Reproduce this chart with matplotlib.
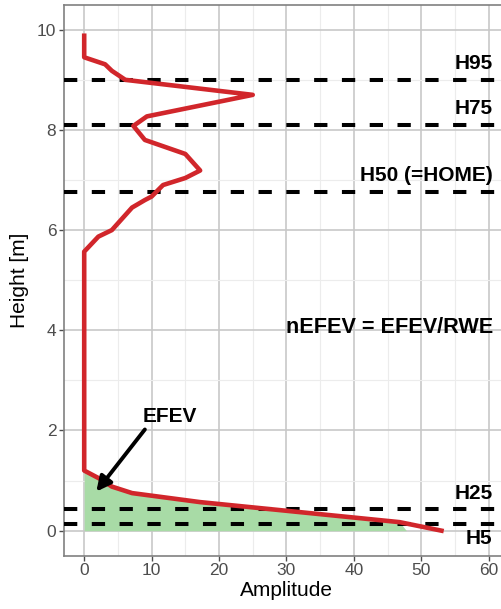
import matplotlib
matplotlib.use('Agg')
import matplotlib.pyplot as plt
import numpy as np

plt.rcParams['font.family'] = ['Liberation Sans', 'DejaVu Sans']

# Amplitudenprofil (Amplitude, Hoehe)
amplitude = [0, 0, 3.1, 4.1, 6.1, 25.0, 9.3, 7.3, 9.0, 15.0, 17.2, 15.0, 11.7, 10.0, 9.0,
             7.1, 4.1, 2.1, 0, 0, 2.4, 4.1, 7.1, 17.2, 32.0, 46.8, 53.0]
height = [9.88, 9.45, 9.31, 9.18, 9.0, 8.70, 8.27, 8.08, 7.80, 7.52, 7.19, 7.04, 6.90, 6.67, 6.60,
          6.45, 6.0, 5.87, 5.57, 1.20, 1.03, 0.88, 0.75, 0.57, 0.37, 0.17, 0.0]

# Hoehenperzentile
h_names = ['H95', 'H75', 'H50 (=HOME)', 'H25', 'H5']
h_values = [9.0, 8.1, 6.76, 0.44, 0.14]
h_label_y = [9.33, 8.42, 7.09, 0.75, -0.15]

efev_top = 1.2
efev_end = 47.8  # wo die gruene Flaeche am Boden endet

fig = plt.figure(figsize=(5.01, 6.09), dpi=100)
ax = fig.add_axes([0.1277, 0.0875, 0.888, 0.9048])

# EFEV Flaeche (unterer Teil des Profils)
amp = np.array(amplitude)
hgt = np.array(height)
sel = (hgt <= efev_top) & (hgt > 0)
fill_h = np.append(hgt[sel], 0)
fill_a = np.append(amp[sel], efev_end)
ax.fill_betweenx(fill_h, 0, fill_a, color='#a8dba6', lw=0, zorder=2)

for hv in h_values:
    ax.axhline(hv, color='black', lw=2.9, dashes=(3.3, 3.6), zorder=3)

ax.plot(amplitude, height, color='#d1262b', lw=3.3, solid_joinstyle='round', zorder=4)

for name, ly in zip(h_names, h_label_y):
    ax.text(60.6, ly, name, ha='right', va='center', fontsize=15, fontweight='bold', zorder=5)

ax.text(60.7, 4.05, 'nEFEV = EFEV/RWE', ha='right', va='center', fontsize=15.6, fontweight='bold')
ax.text(12.7, 2.28, 'EFEV', ha='center', va='center', fontsize=15, fontweight='bold')
ax.annotate('', xy=(1.8, 0.78), xytext=(9.0, 2.02),
            arrowprops=dict(arrowstyle='-|>', color='black', lw=2.8, mutation_scale=22,
                            shrinkA=0, shrinkB=0), zorder=6)

ax.set_xlim(-3, 63)
ax.set_ylim(-0.5, 10.5)
ax.set_xticks([0, 10, 20, 30, 40, 50, 60])
ax.set_xticks([5, 15, 25, 35, 45, 55], minor=True)
ax.set_yticks([0, 2, 4, 6, 8, 10])
ax.set_yticks([1, 3, 5, 7, 9], minor=True)
ax.grid(True, which='major', color='#c8c8c8', lw=1.2, zorder=0)
ax.grid(True, which='minor', color='#ececec', lw=0.8, zorder=0)
ax.set_axisbelow(True)

for sp in ax.spines.values():
    sp.set_color('#808080')
    sp.set_linewidth(1.2)

ax.tick_params(axis='both', which='major', colors='#4d4d4d', labelsize=12.5, length=3.5, width=1.0,
               labelcolor='#4d4d4d', pad=2)
ax.tick_params(axis='both', which='minor', length=0)

ax.set_xlabel('Amplitude', fontsize=15, labelpad=2)
ax.set_ylabel('Height [m]', fontsize=15, labelpad=6)

fig.savefig('out.png', dpi=100)
